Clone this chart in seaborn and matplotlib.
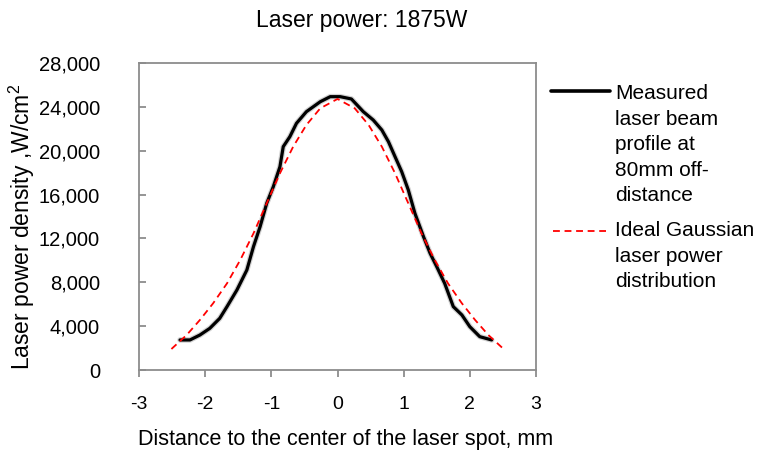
import numpy as np
import pandas as pd
import matplotlib
matplotlib.use("Agg")
import matplotlib.pyplot as plt
from matplotlib.lines import Line2D
import seaborn as sns

# Measured laser beam profile
measured_x = [-2.38, -2.23, -2.08, -1.93, -1.78, -1.67, -1.52, -1.37, -1.27, -1.17,
              -1.07, -0.97, -0.87, -0.82, -0.72, -0.62, -0.47, -0.26, -0.11, 0.04,
              0.21, 0.39, 0.54, 0.67, 0.77, 0.87, 0.97, 1.07, 1.17, 1.30,
              1.40, 1.50, 1.62, 1.75, 1.88, 2.00, 2.15, 2.33]
measured_y = [2740, 2740, 3190, 3800, 4710, 5780, 7300, 9120, 11250, 13070,
              15200, 16720, 18540, 20370, 21280, 22500, 23560, 24470, 24930, 24930,
              24720, 23560, 22800, 21890, 20820, 19450, 18090, 16420, 14290, 12160,
              10640, 9420, 7900, 5780, 5020, 3950, 3040, 2740]

# Ideal Gaussian distribution
gauss_x = [-2.51, -2.28, -2.08, -1.88, -1.67, -1.47, -1.27, -1.07, -0.87, -0.67,
           -0.47, -0.26, 0.0, 0.26, 0.47, 0.67, 0.87, 1.07, 1.27, 1.47,
           1.67, 1.88, 2.08, 2.28, 2.51]
gauss_y = [1915, 3190, 4560, 6080, 7900, 10030, 12460, 15200, 17940, 20370,
           22350, 23870, 24720, 23870, 22350, 20370, 17940, 15200, 12460, 10030,
           7900, 6080, 4560, 3190, 1915]

x_ticks = [-3, -2, -1, 0, 1, 2, 3]
y_ticks = [0, 4000, 8000, 12000, 16000, 20000, 24000, 28000]

title = "Laser power: 1875W"
xlabel = "Distance to the center of the laser spot, mm"
ylabel = "Laser power density ,W/cm$^2$"
label_measured = "Measured\nlaser beam\nprofile at\n80mm off-\ndistance"
label_gauss = "Ideal Gaussian\nlaser power\ndistribution"

sns.set_style("white")
plt.rcParams['font.family'] = ['Liberation Sans', 'DejaVu Sans']
plt.rcParams['mathtext.fontset'] = 'custom'
plt.rcParams['mathtext.rm'] = 'Liberation Sans'
plt.rcParams['text.color'] = 'black'
plt.rcParams['xtick.labelcolor'] = 'black'
plt.rcParams['ytick.labelcolor'] = 'black'

W, H = 767, 453
fig = plt.figure(figsize=(W / 100, H / 100), dpi=100)
ax = fig.add_axes([139 / W, (H - 370) / H, (536 - 139) / W, (370 - 63) / H])

df_m = pd.DataFrame({"x": measured_x, "y": measured_y})
df_g = pd.DataFrame({"x": gauss_x, "y": gauss_y})

sns.lineplot(data=df_m, x="x", y="y", ax=ax, color="#9a9a9a", linewidth=4.0,
             alpha=0.45, sort=False, legend=False)
sns.lineplot(data=df_m, x="x", y="y", ax=ax, color="black", linewidth=2.3,
             sort=False, legend=False)
sns.lineplot(data=df_g, x="x", y="y", ax=ax, color="#ff0000", linewidth=1.3,
             linestyle=(0, (3.8, 2.6)), sort=False, legend=False)

ax.set_xlim(-3, 3)
ax.set_ylim(0, 28000)
ax.set_xticks(x_ticks)
ax.set_yticks(y_ticks)
ax.set_xticklabels([str(t) for t in x_ticks])
ax.set_yticklabels([f"{t:,}" for t in y_ticks])
ax.set_xlabel("")
ax.set_ylabel("")

for s in ax.spines.values():
    s.set_visible(True)
    s.set_color("#8c8c8c")
    s.set_linewidth(1.3)

ax.tick_params(axis="x", direction="out", length=5, width=1.3, color="#8c8c8c",
               labelsize=14, labelcolor="black", pad=14, bottom=True)
ax.tick_params(axis="y", direction="in", length=5, width=1.3, color="#8c8c8c",
               labelsize=14.5, labelcolor="black", pad=28, left=True)

fig.text(362 / W, 1 - 20 / H, title, ha="center", va="center", fontsize=16.5,
         color="black")
fig.text(346 / W, 1 - 440 / H, xlabel, ha="center", va="center", fontsize=15.5,
         color="black")
fig.text(22 / W, 1 - 227 / H, ylabel, ha="center", va="center", rotation=90,
         fontsize=16.5, color="black")

# Legend drawn at the right, handles aligned with the first text line
fig.add_artist(Line2D([551 / W, 610 / W], [1 - 90.5 / H, 1 - 90.5 / H],
                      color="black", linewidth=2.6, transform=fig.transFigure))
fig.text(615 / W, 1 - 84 / H, label_measured, ha="left", va="top",
         fontsize=15, linespacing=1.44, color="black")
fig.add_artist(Line2D([553 / W, 606 / W], [1 - 231 / H, 1 - 231 / H],
                      color="#ff0000", linewidth=1.3, linestyle=(0, (3.8, 2.6)),
                      transform=fig.transFigure))
fig.text(615 / W, 1 - 221 / H, label_gauss, ha="left", va="top",
         fontsize=15, linespacing=1.44, color="black")

fig.savefig("out.png", dpi=100)
